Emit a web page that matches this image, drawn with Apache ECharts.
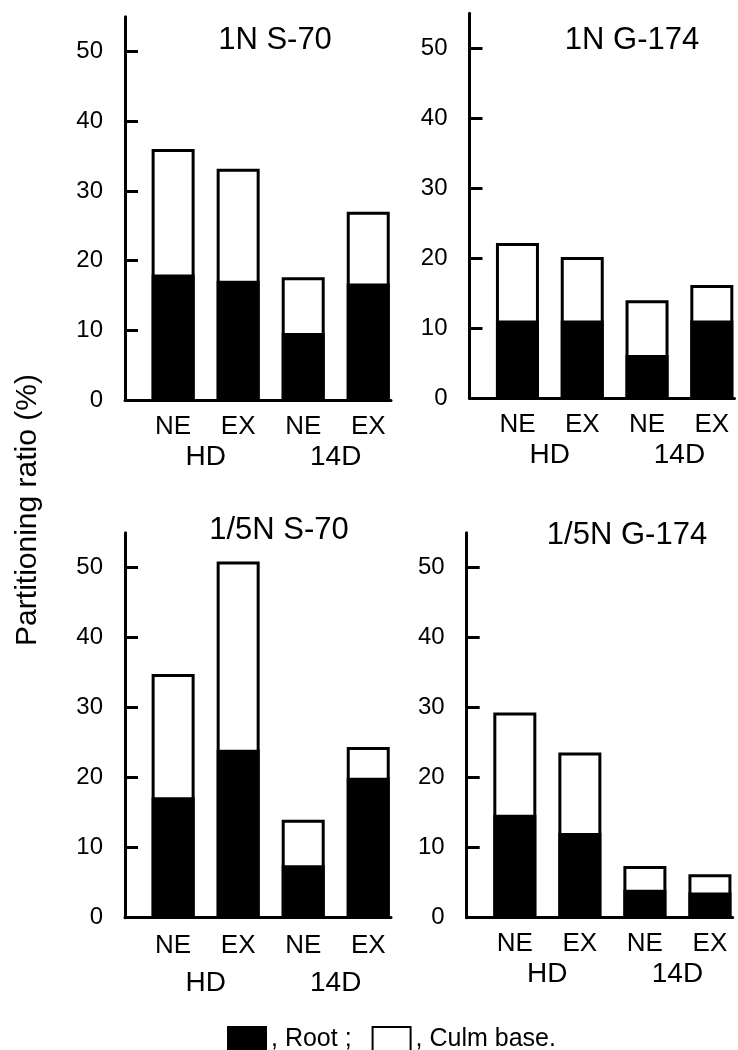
<!DOCTYPE html>
<html>
<head>
<meta charset="utf-8">
<script src="https://cdn.jsdelivr.net/npm/echarts@6/dist/echarts.min.js"></script>
<style>
html,body{margin:0;padding:0;background:#fff;}
#c{width:738px;height:1050px;}
</style>
</head>
<body>
<div id="c"></div>
<script>
// ---- data ----
const categories = ['NE', 'EX', 'NE', 'EX'];
const groups = ['HD', '14D'];
const panelTitles = ['1N S-70', '1N G-174', '1/5N S-70', '1/5N G-174'];
const yTicks = [0, 10, 20, 30, 40, 50];

const root_1N_S70 = [18.0, 17.1, 9.6, 16.7];
const culm_1N_S70 = [18.0, 16.1, 8.0, 10.3];
const root_1N_G174 = [11.1, 11.1, 6.2, 11.1];
const culm_1N_G174 = [11.1, 9.1, 7.8, 5.1];
const root_5N_S70 = [17.2, 24.0, 7.5, 20.0];
const culm_5N_S70 = [17.6, 26.9, 6.5, 4.4];
const root_5N_G174 = [14.7, 12.1, 4.0, 3.6];
const culm_5N_G174 = [14.6, 11.5, 3.4, 2.6];

const rootSets = [root_1N_S70, root_1N_G174, root_5N_S70, root_5N_G174];
const culmSets = [culm_1N_S70, culm_1N_G174, culm_5N_S70, culm_5N_G174];

// ---- layout ----
const FONT = '"Liberation Sans", Arial, Helvetica, sans-serif';
const grids = [
  {left: 125, top: 16.7, width: 266, height: 383.3},
  {left: 469.5, top: 13.3, width: 265, height: 385},
  {left: 125, top: 532.7, width: 266, height: 385},
  {left: 466.7, top: 532.7, width: 266, height: 385}
];
const groupOffsets = [31, 31, 40, 31];
const catMargins = [14, 14, 15, 13];
const titlePos = [[270, 20], [627, 20], [274, 510], [622, 515]];

const option = {
  animation: false,
  backgroundColor: '#fff',
  textStyle: {fontFamily: FONT, color: '#000'},
  title: panelTitles.map((t, i) => ({
    text: t, left: titlePos[i][0], top: titlePos[i][1], textAlign: 'center',
    textStyle: {fontFamily: FONT, fontSize: 31, fontWeight: 'normal', color: '#000'}
  })),
  legend: {
    left: 222, top: 1021, itemWidth: 38, itemHeight: 25, itemGap: 20, icon: 'rect',
    data: ['Root', 'Culm base'],
    formatter: n => n === 'Root' ? ', Root ;' : ', Culm base.',
    textStyle: {fontFamily: FONT, fontSize: 25, color: '#000'}
  },
  grid: grids.map(g => Object.assign({outerBoundsMode: 'none', containLabel: false}, g)),
  xAxis: [],
  yAxis: [],
  series: [],
  graphic: [{
    type: 'text', x: 28, y: 510, rotation: Math.PI / 2,
    style: {text: 'Partitioning ratio (%)', fontFamily: FONT, fontSize: 30, fill: '#000',
            textAlign: 'center', textVerticalAlign: 'middle'}
  }]
};

grids.forEach((g, i) => {
  option.xAxis.push({
    type: 'value', gridIndex: i, min: -0.74, max: 3.35, position: 'bottom',
    splitLine: {show: false}, axisTick: {show: false},
    axisLine: {show: true, onZero: false, lineStyle: {color: '#000', width: 3}},
    axisLabel: {
      customValues: [0, 1, 2, 3], margin: catMargins[i],
      formatter: v => categories[Math.round(v)],
      fontFamily: FONT, fontSize: 26, color: '#000'
    }
  });
  option.xAxis.push({
    type: 'value', gridIndex: i, min: -0.74, max: 3.35, position: 'bottom', offset: groupOffsets[i],
    splitLine: {show: false}, axisTick: {show: false}, axisLine: {show: false, onZero: false},
    axisLabel: {
      customValues: [0.5, 2.5], margin: 12,
      formatter: v => groups[v < 1.5 ? 0 : 1],
      fontFamily: FONT, fontSize: 28, color: '#000'
    }
  });
  option.yAxis.push({
    type: 'value', gridIndex: i, min: 0, max: 55,
    splitLine: {show: false},
    axisLine: {show: true, onZero: false, lineStyle: {color: '#000', width: 3}},
    axisTick: {show: true, inside: true, length: 13, customValues: yTicks.slice(1),
               lineStyle: {color: '#000', width: 3}},
    axisLabel: {customValues: yTicks, margin: 22, fontFamily: FONT, fontSize: 24, color: '#000'}
  });
  const root = rootSets[i], culm = culmSets[i];
  option.series.push({
    type: 'bar', name: 'Culm base', xAxisIndex: 2 * i, yAxisIndex: i,
    barWidth: 43, barGap: '-100%',
    data: root.map((r, j) => [j, +(r + culm[j]).toFixed(2)]),
    itemStyle: {color: '#fff', borderColor: '#000', borderWidth: 3}
  });
  option.series.push({
    type: 'bar', name: 'Root', xAxisIndex: 2 * i, yAxisIndex: i,
    barWidth: 43, barGap: '-100%',
    data: root.map((r, j) => [j, r]),
    itemStyle: {color: '#000', borderColor: '#000', borderWidth: 3}
  });
});

const chart = echarts.init(document.getElementById('c'), null, {renderer: 'canvas'});
chart.setOption(option);
</script>
</body>
</html>
